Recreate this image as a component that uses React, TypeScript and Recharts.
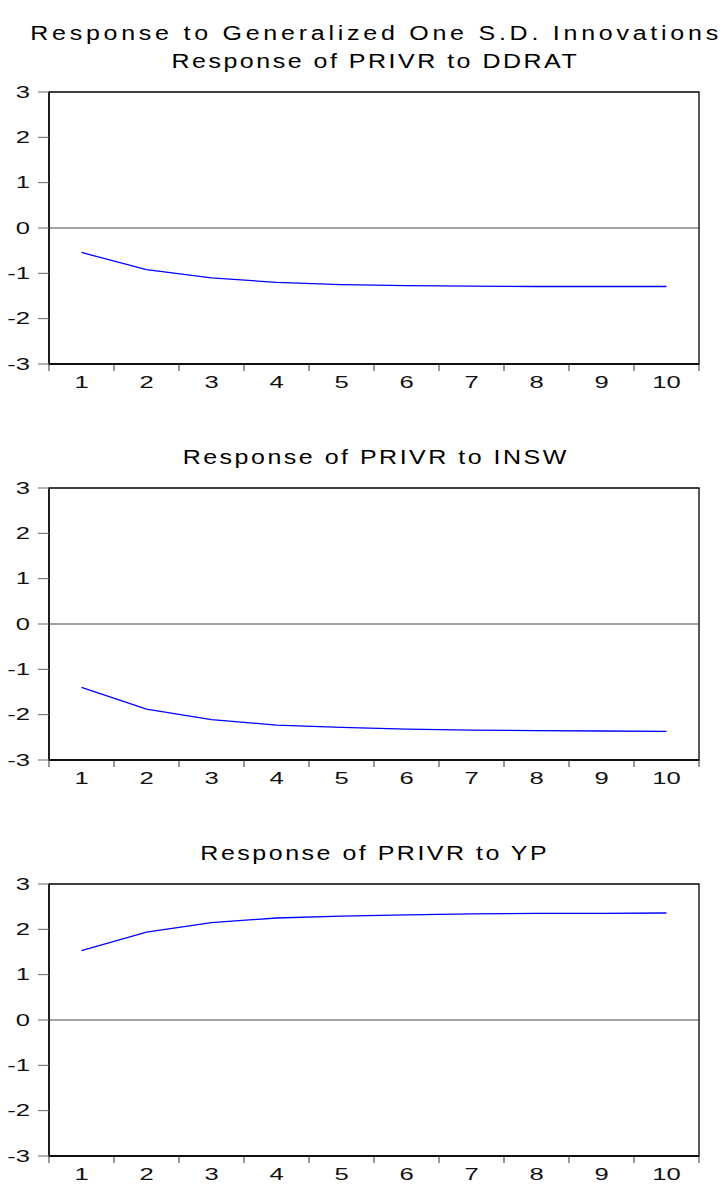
import { LineChart, Line, XAxis, YAxis, ReferenceLine, ReferenceArea } from "recharts";

const steps = [1, 2, 3, 4, 5, 6, 7, 8, 9, 10];
const ddrat = [-0.54, -0.92, -1.1, -1.2, -1.25, -1.27, -1.28, -1.29, -1.29, -1.29];
const insw = [-1.4, -1.88, -2.11, -2.23, -2.28, -2.32, -2.34, -2.35, -2.36, -2.37];
const yp = [1.53, 1.94, 2.15, 2.25, 2.29, 2.32, 2.34, 2.35, 2.35, 2.36];
const yTicks = [-3, -2, -1, 0, 1, 2, 3];
const xTicks = [0.5, 1, 1.5, 2, 2.5, 3, 3.5, 4, 4.5, 5, 5.5, 6, 6.5, 7, 7.5, 8, 8.5, 9, 9.5, 10, 10.5];

const panels = [
  { title: "Response of PRIVR to DDRAT", values: ddrat, top: 82, titleTop: 51 },
  { title: "Response of PRIVR to INSW", values: insw, top: 478, titleTop: 447 },
  { title: "Response of PRIVR to YP", values: yp, top: 874, titleTop: 843 },
];

const FONT = '"Liberation Sans", Arial, sans-serif';

function Title({ text, top, spacing }: { text: string; top: number; spacing: number }) {
  return (
    <div style={{ position: "absolute", top, left: 0, width: 748, display: "flex", justifyContent: "center" }}>
      <div
        style={{
          fontFamily: FONT,
          fontSize: 20,
          lineHeight: "20px",
          letterSpacing: spacing,
          paddingLeft: spacing,
          transform: "scaleX(1.25)",
          color: "#000",
          whiteSpace: "nowrap",
        }}
      >
        {text}
      </div>
    </div>
  );
}

function YTick(props: any) {
  const { x, y, payload } = props;
  return (
    <text
      transform={`translate(${x},${y}) scale(1.6,1)`}
      textAnchor="end"
      dy={5.5}
      fontSize={16}
      fontFamily={FONT}
      fill="#111"
    >
      {payload.value}
    </text>
  );
}

function XTick(props: any) {
  const { x, y, payload } = props;
  const v = payload.value;
  if (v % 1 !== 0) {
    return <line x1={x} y1={y} x2={x} y2={y + 7} stroke="#333" strokeWidth={1} />;
  }
  return (
    <text
      transform={`translate(${x},${y + 24}) scale(1.6,1)`}
      textAnchor="middle"
      fontSize={16}
      fontFamily={FONT}
      fill="#111"
    >
      {v}
    </text>
  );
}

function Panel({ title, values, top, titleTop }: any) {
  const data = steps.map((s, i) => ({ step: s, value: values[i] }));
  return (
    <>
      <Title text={title} top={titleTop} spacing={2} />
      <div style={{ position: "absolute", top, left: 0 }}>
        <LineChart width={722} height={320} data={data} margin={{ top: 10, right: 23, bottom: 0, left: 9 }}>
          <XAxis
            dataKey="step"
            type="number"
            domain={[0.5, 10.5]}
            ticks={xTicks}
            interval={0}
            tickSize={0}
            tickMargin={0}
            tickLine={false}
            tick={<XTick />}
            axisLine={{ stroke: "#000", strokeWidth: 1.3 }}
            height={38}
          />
          <YAxis
            domain={[-3, 3]}
            ticks={yTicks}
            interval={0}
            width={40}
            tickSize={11}
            tickMargin={8}
            tickLine={{ stroke: "#666" }}
            tick={<YTick />}
            axisLine={{ stroke: "#000", strokeWidth: 1.3 }}
          />
          <ReferenceArea x1={0.5} x2={10.5} y1={-3} y2={3} fill="none" stroke="#000" strokeWidth={1.3} />
          <ReferenceLine y={0} stroke="#444" strokeWidth={1} />
          <Line
            type="linear"
            dataKey="value"
            stroke="#0000ff"
            strokeWidth={1.3}
            dot={false}
            isAnimationActive={false}
          />
        </LineChart>
      </div>
    </>
  );
}

export default function App() {
  return (
    <div style={{ position: "absolute", top: 0, left: 0, width: 722, height: 1184, background: "#fff" }}>
      <Title text="Response to Generalized One S.D. Innovations" top={23} spacing={3} />
      {panels.map((p) => (
        <Panel key={p.title} {...p} />
      ))}
    </div>
  );
}
